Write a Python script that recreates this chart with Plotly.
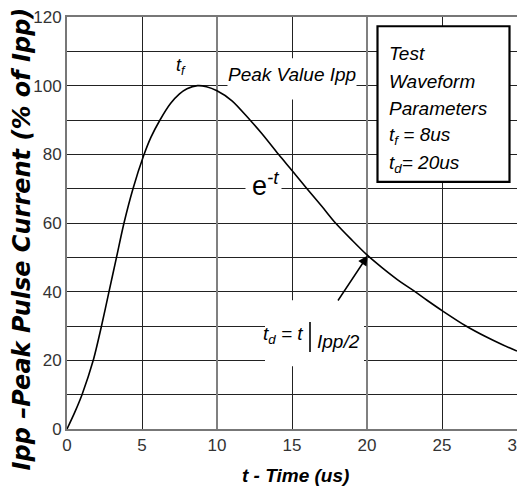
import plotly.graph_objects as go

# Data
time_us = [0, 0.5, 1.0, 1.75, 2.3, 2.8, 3.3, 3.8, 4.4, 5.1, 5.6, 6.2, 6.9, 7.5, 8.0, 8.7,
           9.3, 10.0, 11.0, 12.2, 13.0, 14.1, 15.0, 16.0, 17.0, 17.9, 19.0, 20.0, 21.0,
           22.0, 23.2, 24.0, 25.0, 26.6, 28.0, 29.0, 30.0]
current_pct = [0, 4.7, 10, 20, 30, 40, 50, 60, 70, 79.5, 85, 90, 94.8, 97.6, 99.1, 100,
               99.7, 98.5, 95.6, 90, 86, 80, 75.3, 70, 64.8, 60, 55, 50.7, 47,
               43.6, 40, 37.5, 34.5, 30, 26.7, 24.6, 22.7]
x_ticks = [0, 5, 10, 15, 20, 25, 30]
y_ticks = [0, 20, 40, 60, 80, 100, 120]
box_lines = ["Test", "Waveform", "Parameters", "t<sub>f</sub> = 8us", "t<sub>d</sub>= 20us"]

FONT = "Liberation Sans, Arial, sans-serif"

fig = go.Figure()
fig.add_trace(go.Scatter(x=time_us, y=current_pct, mode="lines",
                         line=dict(color="black", width=1.6, shape="spline", smoothing=0.8),
                         hoverinfo="skip", showlegend=False))

shapes = []
for xv in (10, 20):
    shapes.append(dict(type="line", xref="x", yref="y", x0=xv, x1=xv, y0=0, y1=120,
                       line=dict(color="#808080", width=2), layer="between"))
for (x0, x1, y0, y1) in [(10.7, 19.3, 96, 108), (11.9, 14.3, 64, 77), (13.2, 19.8, 18.3, 37.5)]:
    shapes.append(dict(type="rect", xref="x", yref="y", x0=x0, x1=x1, y0=y0, y1=y1,
                       fillcolor="white", line=dict(width=0), layer="between"))
shapes.append(dict(type="line", xref="x", yref="y", x0=16.2, x1=16.2, y0=22.4, y1=31.2,
                   line=dict(color="black", width=1.6), layer="above"))
shapes.append(dict(type="rect", xref="x", yref="y", x0=20.7, x1=29.5, y0=72, y1=117.3,
                   fillcolor="white", line=dict(color="black", width=2.2), layer="above"))

ann = []
ann.append(dict(x=7.6, y=105.5, text="<i>t<sub>f</sub></i>", showarrow=False,
                font=dict(size=18, family=FONT, color="black")))
ann.append(dict(x=15.0, y=103.2, text="<i>Peak Value Ipp</i>", showarrow=False,
                font=dict(size=19, family=FONT, color="black")))
ann.append(dict(x=13.2, y=71.5, text="e<sup><i>-t</i></sup>", showarrow=False,
                font=dict(size=27, family=FONT, color="black")))
ann.append(dict(x=14.4, y=27.4, text="<i>t<sub>d</sub> = t</i>", showarrow=False,
                font=dict(size=19, family=FONT, color="black")))
ann.append(dict(x=18.1, y=25.6, text="<i>Ipp/2</i>", showarrow=False,
                font=dict(size=19, family=FONT, color="black")))
ann.append(dict(x=20.05, y=50.5, ax=18.0, ay=37.0, axref="x", ayref="y", text="",
                showarrow=True, arrowhead=2, arrowsize=1.3, arrowwidth=1.5,
                arrowcolor="black", standoff=0))
box_y = [109.5, 101.3, 93.3, 85.3, 77.3]
for txt, yy in zip(box_lines, box_y):
    ann.append(dict(x=21.3, y=yy, text="<i>" + txt + "</i>", showarrow=False, xanchor="left",
                    font=dict(size=19, family=FONT, color="black")))
ann.append(dict(xref="paper", yref="paper", x=0.507, y=-0.114, yanchor="middle",
                text="<b><i>t - Time (us)</i></b>", showarrow=False,
                font=dict(size=19, family=FONT, color="black")))
ann.append(dict(xref="paper", yref="paper", x=-0.1, y=0.46, xanchor="center", yanchor="middle",
                textangle=-90, text="<b><i>Ipp –Peak Pulse Current (% of Ipp)</i></b>",
                showarrow=False, font=dict(size=24, family="DejaVu Sans, sans-serif", color="black")))

fig.update_layout(
    width=517, height=482,
    margin=dict(l=59, r=8, t=9, b=61, autoexpand=False),
    paper_bgcolor="white", plot_bgcolor="white",
    shapes=shapes, annotations=ann,
    xaxis=dict(range=[0, 30], tickvals=x_ticks, ticktext=[str(v) for v in x_ticks],
               automargin=False, ticklabeloverflow="allow",
               showgrid=True, gridcolor="#222222", gridwidth=1.2, zeroline=False,
               showline=True, linecolor="#777777", linewidth=2, mirror=True,
               ticks="", tickfont=dict(size=17, family=FONT, color="#333333"),
               fixedrange=True),
    yaxis=dict(range=[0, 120], tickvals=y_ticks, ticktext=[str(v) for v in y_ticks],
               automargin=False, ticklabeloverflow="allow",
               showgrid=True, gridcolor="#222222", gridwidth=1.2, zeroline=False,
               minor=dict(dtick=10, showgrid=True, gridcolor="#222222", gridwidth=1.2),
               showline=True, linecolor="#777777", linewidth=2, mirror=True,
               ticks="", tickfont=dict(size=17, family=FONT, color="#333333"),
               fixedrange=True),
)

fig.write_html("out.html")
